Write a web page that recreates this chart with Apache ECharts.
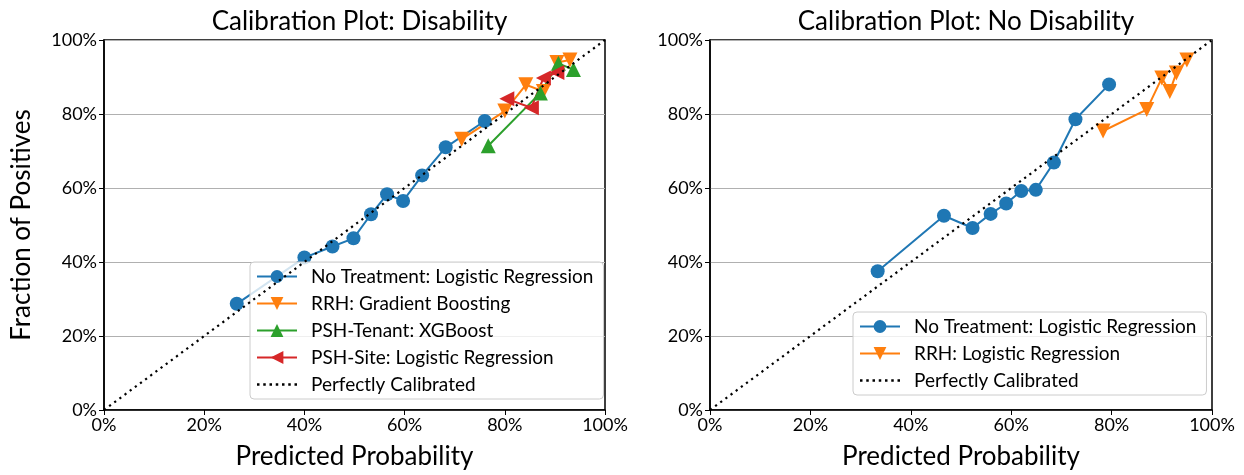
<!DOCTYPE html>
<html><head><meta charset="utf-8">
<script src="https://cdn.jsdelivr.net/npm/echarts@6/dist/echarts.min.js"></script>
<style>html,body{margin:0;padding:0;background:#fff}#c{width:1244px;height:475px}</style>
</head><body><div id="c"></div>
<script>
// Left panel: Disability
const ntX = [26.5, 40.0, 45.6, 49.8, 53.3, 56.5, 59.7, 63.5, 68.2, 76.0];
const ntY = [28.7, 41.2, 44.2, 46.4, 52.9, 58.3, 56.5, 63.4, 71.0, 78.1];
const rrhX = [71.4, 80.0, 84.2, 87.7, 90.4, 93.0];
const rrhY = [73.2, 80.8, 87.9, 86.1, 93.9, 94.6];
const tenX = [76.7, 87.1, 90.7, 93.7];
const tenY = [71.4, 85.7, 93.7, 92.0];
const siteX = [80.4, 85.3, 87.7, 90.4];
const siteY = [84.1, 81.7, 89.7, 91.2];
// Right panel: No Disability
const nt2X = [33.4, 46.6, 52.3, 55.9, 59.0, 62.0, 64.9, 68.5, 72.8, 79.5];
const nt2Y = [37.5, 52.5, 49.2, 53.0, 55.8, 59.2, 59.5, 66.9, 78.6, 88.0];
const rrh2X = [78.3, 87.0, 90.0, 91.6, 92.9, 95.0];
const rrh2Y = [75.4, 81.2, 89.7, 86.1, 91.1, 94.6];
const diagX = [0, 100];
const diagY = [0, 100];

const titles = ['Calibration Plot: Disability', 'Calibration Plot: No Disability'];
const names = {
  nt: 'No Treatment: Logistic Regression',
  rrh: 'RRH: Gradient Boosting',
  ten: 'PSH-Tenant: XGBoost',
  site: 'PSH-Site: Logistic Regression',
  rrh2: 'RRH: Logistic Regression',
  perf: 'Perfectly Calibrated'
};
const C = {blue:'#1f77b4', orange:'#ff7f0e', green:'#2ca02c', red:'#d62728'};
const FONT = 'Lato';
const zip = (a, b) => a.map((v, i) => [v, b[i]]);
const dotIcon = 'path://M0,0h2.4v2.4h-2.4z M6,0h2.4v2.4h-2.4z M12,0h2.4v2.4h-2.4z M18,0h2.4v2.4h-2.4z M24,0h2.4v2.4h-2.4z M30,0h2.4v2.4h-2.4z M36,0h2.4v2.4h-2.4z';

function mk(name, xs, ys, color, symbol, rot, gi, size) {
  return {
    name, type: 'line', xAxisIndex: gi, yAxisIndex: gi,
    data: zip(xs, ys), symbol, symbolSize: size, symbolRotate: rot,
    showSymbol: true,
    itemStyle: {color}, lineStyle: {color, width: 2}, z: 3, animation: false
  };
}
function diag(gi) {
  return {
    name: names.perf, type: 'line', xAxisIndex: gi, yAxisIndex: gi,
    data: zip(diagX, diagY), symbol: 'none',
    itemStyle: {color: '#000'},
    lineStyle: {color: '#000', width: 2.2, type: [2.2, 4.2]}, z: 4, animation: false
  };
}
function xAx(gi) {
  return {
    type: 'value', gridIndex: gi, min: 0, max: 100, interval: 20,
    name: 'Predicted Probability', nameLocation: 'middle', nameGap: 34,
    nameTextStyle: {fontFamily: FONT, fontSize: 26, color: '#000'},
    axisLine: {show: true, lineStyle: {color: '#000', width: 1.5}},
    axisTick: {show: true, inside: false, length: 5, lineStyle: {color: '#000'}},
    axisLabel: {formatter: '{value}%', fontFamily: FONT, fontSize: 18, color: '#000', margin: 6},
    splitLine: {show: false}
  };
}
function yAx(gi, withName) {
  return {
    type: 'value', gridIndex: gi, min: 0, max: 100, interval: 20,
    name: withName ? 'Fraction of Positives' : '', nameLocation: 'middle', nameGap: 69,
    nameTextStyle: {fontFamily: FONT, fontSize: 26, color: '#000'},
    axisLine: {show: true, lineStyle: {color: '#000', width: 1.5}},
    axisTick: {show: true, inside: false, length: 5, lineStyle: {color: '#000'}},
    axisLabel: {formatter: '{value}%', fontFamily: FONT, fontSize: 18, color: '#000', margin: 7},
    splitLine: {show: true, lineStyle: {color: '#b0b0b0', width: 1}}
  };
}
const legendCommon = {
  orient: 'vertical', itemWidth: 40, itemHeight: 16, itemGap: 8,
  backgroundColor: 'rgba(255,255,255,0.8)', borderColor: '#cccccc', borderWidth: 1,
  borderRadius: 4, padding: [5, 10, 5, 6],
  textStyle: {fontFamily: FONT, fontSize: 19, color: '#000', padding: [0, 0, 0, 9]}
};

const option = {
  backgroundColor: '#fff',
  animation: false,
  title: [
    {text: titles[0], left: 354.5, top: 4, textAlign: 'center', textStyle: {fontFamily: FONT, fontSize: 26, fontWeight: 'normal', color: '#000'}},
    {text: titles[1], left: 961, top: 4, textAlign: 'center', textStyle: {fontFamily: FONT, fontSize: 26, fontWeight: 'normal', color: '#000'}}
  ],
  grid: [
    {left: 104, right: 639, top: 40, bottom: 62, show: true, borderColor: '#000', borderWidth: 1.5, backgroundColor: 'transparent'},
    {left: 710, right: 32, top: 40, bottom: 62, show: true, borderColor: '#000', borderWidth: 1.5, backgroundColor: 'transparent'}
  ],
  xAxis: [xAx(0), xAx(1)],
  yAxis: [yAx(0, true), yAx(1, false)],
  legend: [
    Object.assign({}, legendCommon, {left: 250, top: 262, data: [names.nt, names.rrh, names.ten, names.site, {name: names.perf, icon: dotIcon}]}),
    Object.assign({}, legendCommon, {left: 853, top: 312, data: [names.nt, names.rrh2, {name: names.perf, icon: dotIcon}]})
  ],
  series: [
    mk(names.nt, ntX, ntY, C.blue, 'circle', 0, 0, 14),
    mk(names.rrh, rrhX, rrhY, C.orange, 'triangle', 180, 0, 15),
    mk(names.ten, tenX, tenY, C.green, 'triangle', 0, 0, 15),
    mk(names.site, siteX, siteY, C.red, 'triangle', 90, 0, 15),
    diag(0),
    mk(names.nt, nt2X, nt2Y, C.blue, 'circle', 0, 1, 14),
    mk(names.rrh2, rrh2X, rrh2Y, C.orange, 'triangle', 180, 1, 15),
    diag(1)
  ]
};
const chart = echarts.init(document.getElementById('c'), null, {renderer: 'canvas'});
chart.setOption(option);
</script></body></html>
